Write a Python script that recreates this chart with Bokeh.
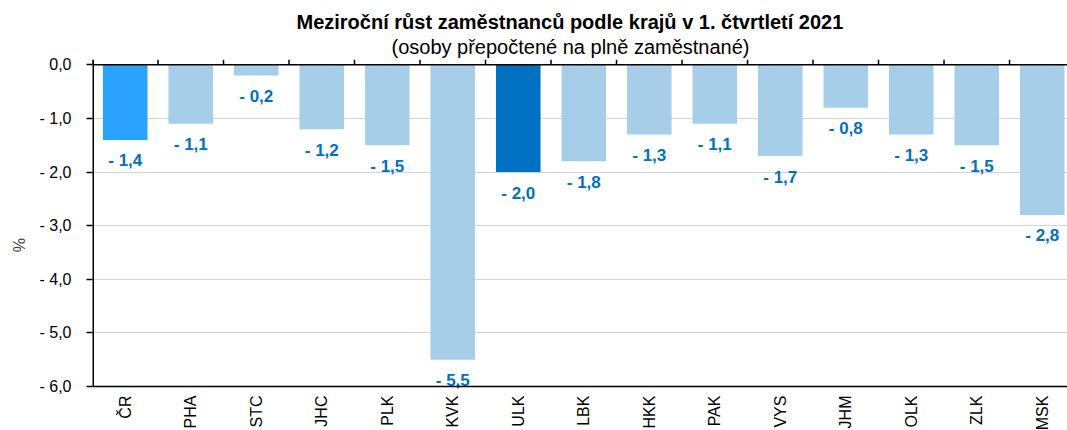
import math
from bokeh.plotting import figure
from bokeh.models import Title, FixedTicker, ColumnDataSource, Range1d, Span
from bokeh.core.properties import value
from bokeh.embed import file_html
from bokeh.resources import INLINE

# ---- data ----
regions = ["ČR", "PHA", "STC", "JHC", "PLK", "KVK", "ULK", "LBK",
           "HKK", "PAK", "VYS", "JHM", "OLK", "ZLK", "MSK"]
growth = [-1.4, -1.1, -0.2, -1.2, -1.5, -5.5, -2.0, -1.8,
          -1.3, -1.1, -1.7, -0.8, -1.3, -1.5, -2.8]
y_ticks = [0, -1, -2, -3, -4, -5, -6]
y_tick_labels = ["0,0", "- 1,0", "- 2,0", "- 3,0", "- 4,0", "- 5,0", "- 6,0"]
title_text = "Meziroční růst zaměstnanců podle krajů v 1. čtvrtletí 2021"
subtitle_text = "(osoby přepočtené na plně zaměstnané)"
y_label = "%"

FONT = "Liberation Sans"
C_CR = "#29A3FF"
C_ULK = "#0070C0"
C_OTHER = "#A6CEE8"
C_LABEL = "#0070C0"
TICK_UP = 0.1      # separator ticks above the zero line (style)
LABEL_ROOM = 0.82  # room below the axis for the category names (style)

Y_MIN, Y_MAX = y_ticks[-1], y_ticks[0]


def fmt(v):
    s = f"{abs(v):.1f}".replace(".", ",")
    return ("- " + s) if v < 0 else s


n = len(regions)
xs = [i + 0.5 for i in range(n)]
colors = [C_CR if r == "ČR" else (C_ULK if r == "ULK" else C_OTHER) for r in regions]
src = ColumnDataSource(dict(x=xs, v=growth, color=colors,
                            label=[fmt(v) for v in growth],
                            name=regions, base=[Y_MIN] * n))
sep = ColumnDataSource(dict(x=list(range(0, n + 1)), y0=[Y_MAX] * (n + 1),
                            y1=[Y_MAX + TICK_UP] * (n + 1)))

p = figure(width=1067, height=430, output_backend="svg", toolbar_location=None,
           title=None, x_range=Range1d(0, 14.885),
           y_range=Range1d(Y_MIN - LABEL_ROOM, Y_MAX + TICK_UP),
           min_border_left=92, min_border_right=0, min_border_top=59,
           min_border_bottom=0)
p.outline_line_color = None
p.background_fill_color = "white"
p.border_fill_color = "white"

# grid
p.xgrid.visible = False
p.ygrid.ticker = FixedTicker(ticks=y_ticks)
p.ygrid.grid_line_color = "#D4D4D4"
p.ygrid.grid_line_width = 1

# bars
p.vbar(x="x", top="v", bottom=0, width=0.68, fill_color="color",
       line_color=None, source=src)

# zero line with category separator ticks, left axis line, bottom axis line
p.segment(x0="x", y0="y0", x1="x", y1="y1", source=sep,
          line_color="black", line_width=1.5)
p.segment(x0=[0], y0=[Y_MIN], x1=[0], y1=[Y_MAX + TICK_UP],
          line_color="black", line_width=3)
p.add_layout(Span(location=Y_MAX, dimension="width", line_color="black",
                  line_width=1.5))
p.add_layout(Span(location=Y_MIN, dimension="width", line_color="black",
                  line_width=1.5))

# data labels
p.text(x="x", y="v", text="label", source=src, text_align="center",
       text_baseline="middle", y_offset=21, text_font=value(FONT),
       text_font_style="bold", text_font_size="17px", text_color=C_LABEL)

# category names, vertical, under the bottom line
p.text(x="x", y="base", text="name", source=src, angle=math.pi / 2,
       text_align="right", text_baseline="middle", y_offset=9,
       text_font=value(FONT), text_font_size="16px", text_color="black")

p.xaxis.visible = False

# left axis
ya = p.yaxis[0]
ya.ticker = FixedTicker(ticks=y_ticks)
ya.major_label_overrides = {t: l for t, l in zip(y_ticks, y_tick_labels)}
ya.major_tick_out = 6
ya.major_tick_in = 0
ya.minor_tick_out = 0
ya.minor_tick_in = 0
ya.major_tick_line_color = "black"
ya.major_tick_line_width = 1.5
ya.major_label_standoff = 15
ya.major_label_text_font = FONT
ya.major_label_text_font_size = "16px"
ya.major_label_text_color = "black"
ya.axis_line_color = None
ya.axis_label = y_label
ya.axis_label_text_font = FONT
ya.axis_label_text_font_size = "16px"
ya.axis_label_text_font_style = "normal"
ya.axis_label_standoff = 8

# titles (inner first)
p.add_layout(Title(text=subtitle_text, align="left", text_font=FONT,
                   text_font_size="20px", text_font_style="normal",
                   text_color="black", standoff=3, offset=299), "above")
p.add_layout(Title(text=title_text, align="left", text_font=FONT,
                   text_font_size="20px", text_font_style="bold",
                   text_color="black", standoff=0, offset=204), "above")

open("out.html", "w").write(file_html(p, INLINE))
